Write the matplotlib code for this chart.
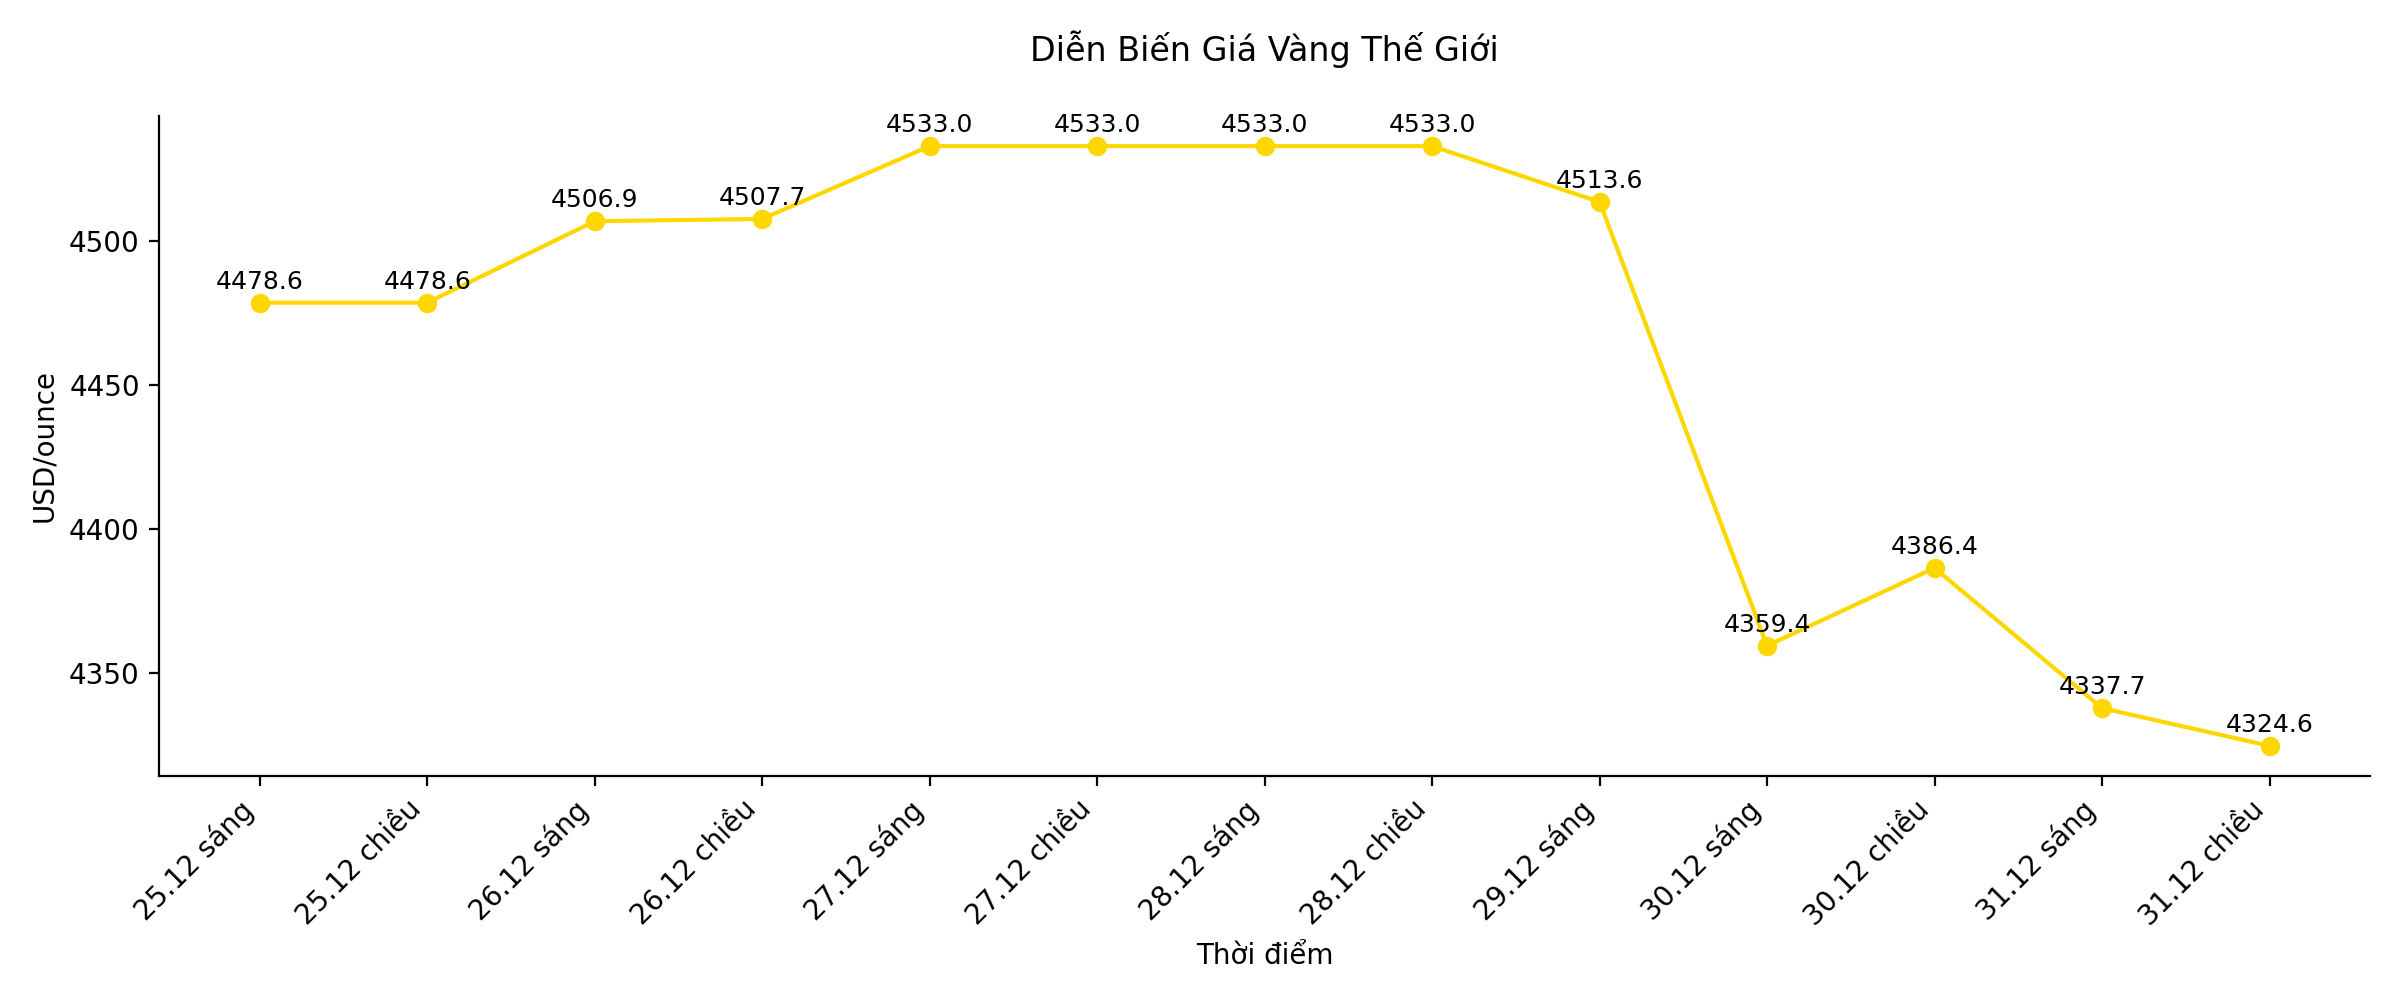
import matplotlib
matplotlib.use("Agg")
import matplotlib.pyplot as plt

labels = ["25.12 sáng", "25.12 chiều", "26.12 sáng", "26.12 chiều", "27.12 sáng",
          "27.12 chiều", "28.12 sáng", "28.12 chiều", "29.12 sáng", "30.12 sáng",
          "30.12 chiều", "31.12 sáng", "31.12 chiều"]
prices = [4478.6, 4478.6, 4506.9, 4507.7, 4533.0, 4533.0, 4533.0, 4533.0,
          4513.6, 4359.4, 4386.4, 4337.7, 4324.6]

fig, ax = plt.subplots(figsize=(12, 5), dpi=200)
x = list(range(len(labels)))
ax.plot(x, prices, color="#FFD700", marker="o", linewidth=1.5, markersize=6)
for xi, v in zip(x, prices):
    ax.annotate(f"{v:.1f}", (xi, v), textcoords="offset points", xytext=(0, 5),
                ha="center", fontsize=9)
ax.set_xticks(x)
ax.set_xticklabels(labels, rotation=45, ha="right")
ax.set_xlabel("Thời điểm")
ax.set_ylabel("USD/ounce")
ax.set_title("Diễn Biến Giá Vàng Thế Giới", pad=20)
ax.spines["top"].set_visible(False)
ax.spines["right"].set_visible(False)
fig.tight_layout()
fig.savefig("out.png", dpi=200)
